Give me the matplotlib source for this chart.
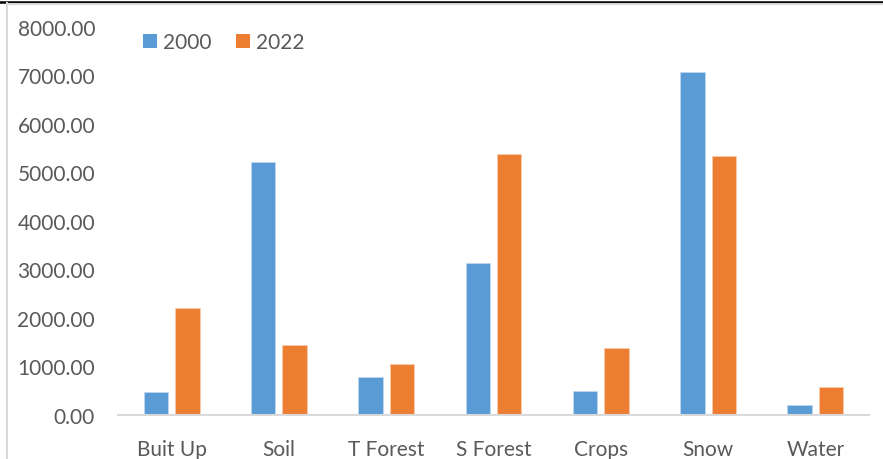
import matplotlib
matplotlib.use("Agg")
import matplotlib.pyplot as plt
from matplotlib.lines import Line2D
from matplotlib.patches import Patch
import numpy as np

categories = ["Buit Up", "Soil", "T Forest", "S Forest", "Crops", "Snow", "Water"]
series_2000 = [467, 5212, 775, 3128, 494, 7064, 212]
series_2022 = [2195, 1440, 1056, 5370, 1372, 5336, 582]
series_names = ["2000", "2022"]
y_ticks = [0, 1000, 2000, 3000, 4000, 5000, 6000, 7000, 8000]

BLUE = "#5B9BD5"
ORANGE = "#ED7D31"
TEXT = "#595959"
GRID = "#D9D9D9"

plt.rcParams['font.family'] = ['Lato', 'DejaVu Sans']

W, H = 883, 460
fig = plt.figure(figsize=(W / 100, H / 100), dpi=100)
fig.patch.set_facecolor("white")

left, right = 118, 869
bottom, top = 416, 27.5
ax = fig.add_axes([left / W, 1 - bottom / H, (right - left) / W, (bottom - top) / H])

x = np.arange(len(categories))
bw = 0.228
off = (bw + 0.065) / 2
ax.bar(x - off, series_2000, width=bw, color=BLUE, edgecolor="#BDD7EE", linewidth=0.6, label=series_names[0], zorder=2)
ax.bar(x + off, series_2022, width=bw, color=ORANGE, edgecolor="#F8CBAD", linewidth=0.6, label=series_names[1], zorder=2)

ax.set_xlim(-0.5, len(categories) - 0.5)
ax.set_ylim(0, 8000)
ax.set_yticks(y_ticks)
ax.set_yticklabels([f"{v:.2f}" for v in y_ticks])
ax.set_xticks(x)
ax.set_xticklabels(categories)

for s in ["top", "right", "left"]:
    ax.spines[s].set_visible(False)
ax.spines["bottom"].set_color(GRID)
ax.spines["bottom"].set_linewidth(1.5)
ax.spines["bottom"].set_zorder(3)

ax.tick_params(axis="y", length=0, pad=16.5, labelsize=15, labelcolor=TEXT)
ax.tick_params(axis="x", length=0, pad=17, labelsize=15, labelcolor=TEXT)

handles = [Patch(facecolor=BLUE, edgecolor="none"), Patch(facecolor=ORANGE, edgecolor="none")]
leg = fig.legend(handles, series_names, loc="center left", bbox_to_anchor=(143 / W, 1 - 43 / H),
                 ncol=2, frameon=False, fontsize=15, handlelength=0.68, handleheight=0.68,
                 handletextpad=0.3, columnspacing=1.15, borderpad=0, borderaxespad=0)
for t in leg.get_texts():
    t.set_color(TEXT)

# outer frame lines
fig.add_artist(Line2D([0, 1], [1 - 2.5 / H, 1 - 2.5 / H], color="black", linewidth=1.8, transform=fig.transFigure))
fig.add_artist(Line2D([7.5 / W, 1], [1 - 4.8 / H, 1 - 4.8 / H], color=GRID, linewidth=1.5, transform=fig.transFigure))
fig.add_artist(Line2D([7.5 / W, 7.5 / W], [0, 1 - 4.0 / H], color=GRID, linewidth=1.5, transform=fig.transFigure))

fig.savefig("out.png", dpi=100, facecolor="white")
